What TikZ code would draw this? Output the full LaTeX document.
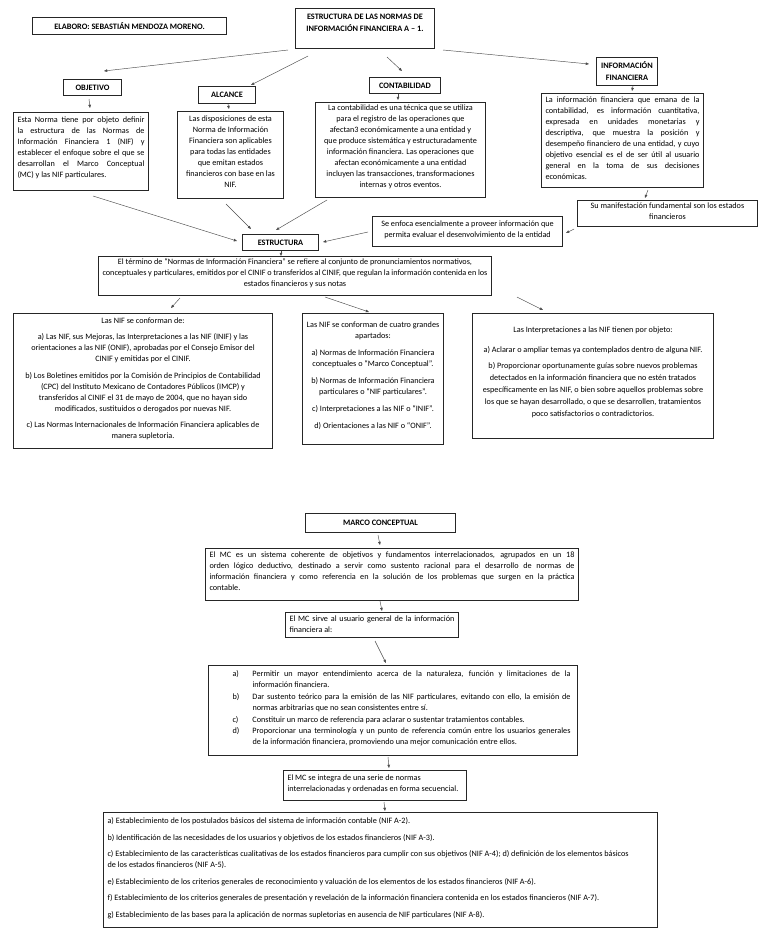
\documentclass[tikz,border=0pt]{standalone}
\usepackage{fontspec}
\setmainfont{Carlito}
\usetikzlibrary{calc,arrows.meta}
\newcommand{\jl}[1]{\makebox[\linewidth][s]{#1}}
\newcommand{\tb}[4]{\parbox[c][#2pt][t]{#1pt}{\setlength{\parindent}{0pt}\vspace*{#3pt}#4}}
\begin{document}
\begin{tikzpicture}[x=1pt,y=-1pt,font=\fontsize{8.2}{11}\selectfont,
  box/.style={draw=black!85,line width=1pt,inner xsep=4pt,inner ysep=0pt,anchor=north west},
  hd/.style={draw=black!85,line width=1pt,inner sep=0pt,anchor=north west,align=center,font=\fontsize{8.3}{12}\selectfont\bfseries},
  arr/.style={-{Triangle[length=3.2pt,width=2.6pt]},line width=0.45pt,draw=black!70}]
\useasboundingbox (0,0) rectangle (768,932);
\fill[white] (0,0) rectangle (768,932);
% headers
\node[hd,minimum width=194pt,minimum height=17pt] (elab) at (32,17) {ELABORO: SEBASTIÁN MENDOZA MORENO.};
\node[hd,minimum width=139pt,minimum height=40pt] (title) at (295,8) {\parbox[c][40pt][t]{139pt}{\centering\vspace*{6pt}ESTRUCTURA DE LAS NORMAS DE\\INFORMACIÓN FINANCIERA A – 1.}};
\node[hd,minimum width=58pt,minimum height=16pt] (objh) at (63,79) {OBJETIVO};
\node[hd,minimum width=57pt,minimum height=17pt] (alch) at (198,86) {ALCANCE};
\node[hd,minimum width=71pt,minimum height=16pt] (conh) at (369,77) {CONTABILIDAD};
\node[hd,minimum width=61pt,minimum height=28pt] (infh) at (596,57) {INFORMACIÓN\\FINANCIERA};
% text boxes row 1
\node[box] (objt) at (13,112) {\tb{127}{78}{4}{\jl{Esta Norma tiene por objeto definir}\\
\jl{la estructura de las Normas de}\\
\jl{Información Financiera 1 (NIF) y}\\
\jl{establecer el enfoque sobre el que se}\\
\jl{desarrollan el Marco Conceptual}\\
(MC) y las NIF particulares.}};
\node[box] (alct) at (177,111) {\tb{98}{87}{4}{\centering Las disposiciones de esta\\Norma de Información\\Financiera son aplicables\\para todas las entidades\\que emitan estados\\financieros con base en las\\NIF.}};
\node[box] (cont) at (315,102) {\tb{162}{95}{2}{\centering La contabilidad es una técnica que se utiliza\\para el registro de las operaciones que\\afectan3 económicamente a una entidad y\\que produce sistemática y estructuradamente\\información financiera. Las operaciones que\\afectan económicamente a una entidad\\incluyen las transacciones, transformaciones\\internas y otros eventos.}};
\node[box] (inft) at (541,93) {\tb{154}{94}{3}{\jl{La información financiera que emana de la}\\
\jl{contabilidad, es información cuantitativa,}\\
\jl{expresada en unidades monetarias y}\\
\jl{descriptiva, que muestra la posición y}\\
\jl{desempeño financiero de una entidad, y cuyo}\\
\jl{objetivo esencial es el de ser útil al usuario}\\
\jl{general en la toma de sus decisiones}\\
económicas.}};
\node[box] (sum) at (577,200) {\tb{172}{26}{2}{\centering Su manifestación fundamental son los estados\\financieros}};
\node[box] (sen) at (372,216) {\tb{182}{30}{4}{\centering Se enfoca esencialmente a proveer información que\\permita evaluar el desenvolvimiento de la entidad}};
\node[hd,minimum width=76pt,minimum height=16pt] (estr) at (242,234) {ESTRUCTURA};
\node[box] (term) at (98,256) {\tb{385}{39}{2}{\centering El término de “Normas de Información Financiera” se refiere al conjunto de pronunciamientos normativos,\\conceptuales y particulares, emitidos por el CINIF o transferidos al CINIF, que regulan la información contenida en los\\estados financieros y sus notas}};
% row 3
\node[box] (nifL) at (13,313) {\tb{251}{135}{4}{\centering Las NIF se conforman de:\\[5.5pt]
a) Las NIF, sus Mejoras, las Interpretaciones a las NIF (INIF) y las\\orientaciones a las NIF (ONIF), aprobadas por el Consejo Emisor del\\CINIF y emitidas por el CINIF.\\[5.5pt]
b) Los Boletines emitidos por la Comisión de Principios de Contabilidad\\(CPC) del Instituto Mexicano de Contadores Públicos (IMCP) y\\transferidos al CINIF el 31 de mayo de 2004, que no hayan sido\\modificados, sustituidos o derogados por nuevas NIF.\\[5.5pt]
c) Las Normas Internacionales de Información Financiera aplicables de\\manera supletoria.}};
\node[box] (nifM) at (302,313) {\tb{133}{131}{8}{\centering Las NIF se conforman de cuatro grandes\\apartados:\\[6pt]
a) Normas de Información Financiera\\conceptuales o “Marco Conceptual”.\\[6pt]
b) Normas de Información Financiera\\particulares o “NIF particulares”.\\[6pt]
c) Interpretaciones a las NIF o “INIF”.\\[6pt]
d) Orientaciones a las NIF o “ONIF”.}};
\node[box] (nifR) at (472,313) {\tb{233}{125}{13}{\centering\fontsize{8.2}{11.8}\selectfont Las Interpretaciones a las NIF tienen por objeto:\\[8pt]
a) Aclarar o ampliar temas ya contemplados dentro de alguna NIF.\\[5pt]
b) Proporcionar oportunamente guías sobre nuevos problemas\\detectados en la información financiera que no estén tratados\\específicamente en las NIF, o bien sobre aquellos problemas sobre\\los que se hayan desarrollado, o que se desarrollen, tratamientos\\poco satisfactorios o contradictorios.}};
% lower section
\node[hd,minimum width=150pt,minimum height=19pt] (mc) at (305,513) {MARCO CONCEPTUAL};
\node[box] (mc1) at (205,548) {\tb{365}{52}{3}{\jl{El MC es un sistema coherente de objetivos y fundamentos interrelacionados, agrupados en un 18}\\
\jl{orden lógico deductivo, destinado a servir como sustento racional para el desarrollo de normas de}\\
\jl{información financiera y como referencia en la solución de los problemas que surgen en la práctica}\\
contable.}};
\node[box] (mc2) at (285,612) {\tb{165}{25}{3}{\jl{El MC sirve al usuario general de la información}\\financiera al:}};
\node[box] (mcl) at (208,665) {\tb{361}{90}{5}{\fontsize{8.2}{11.4}\selectfont
\hspace*{20pt}\makebox[20pt][l]{a)}\makebox[318pt][s]{Permitir un mayor entendimiento acerca de la naturaleza, función y limitaciones de la}\\
\hspace*{40pt}información financiera.\\
\hspace*{20pt}\makebox[20pt][l]{b)}\makebox[318pt][s]{Dar sustento teórico para la emisión de las NIF particulares, evitando con ello, la emisión de}\\
\hspace*{40pt}normas arbitrarias que no sean consistentes entre sí.\\
\hspace*{20pt}\makebox[20pt][l]{c)}Constituir un marco de referencia para aclarar o sustentar tratamientos contables.\\
\hspace*{20pt}\makebox[20pt][l]{d)}\makebox[318pt][s]{Proporcionar una terminología y un punto de referencia común entre los usuarios generales}\\
\hspace*{40pt}de la información financiera, promoviendo una mejor comunicación entre ellos.}};
\node[box] (mc3) at (283,770) {\tb{175}{30}{4}{\raggedright El MC se integra de una serie de normas\\interrelacionadas y ordenadas en forma secuencial.}};
\node[box] (fin) at (103,812) {\tb{546}{115}{5}{\raggedright
a) Establecimiento de los postulados básicos del sistema de información contable (NIF A-2).\\[5.5pt]
b) Identificación de las necesidades de los usuarios y objetivos de los estados financieros (NIF A-3).\\[5.5pt]
c) Establecimiento de las características cualitativas de los estados financieros para cumplir con sus objetivos (NIF A-4); d) definición de los elementos básicos\\de los estados financieros (NIF A-5).\\[5.5pt]
e) Establecimiento de los criterios generales de reconocimiento y valuación de los elementos de los estados financieros (NIF A-6).\\[5.5pt]
f) Establecimiento de los criterios generales de presentación y revelación de la información financiera contenida en los estados financieros (NIF A-7).\\[5.5pt]
g) Establecimiento de las bases para la aplicación de normas supletorias en ausencia de NIF particulares (NIF A-8).}};
% connectors
\draw[arr] ($(title.north west)+(-7,42)$) -- ($(objh.north west)+(41,-8)$);
\draw[arr] ($(title.north west)+(13,48)$) -- ($(alch.north west)+(53,-1)$);
\draw[arr] ($(title.north west)+(92,49)$) -- ($(conh.north west)+(33,-6)$);
\draw[arr] ($(title.north west)+(148,42)$) -- ($(infh.north west)+(-7,7)$);
\draw[arr] ($(objh.north west)+(26,20)$) -- ($(objt.north west)+(77,-4)$);
\draw[arr] ($(alch.north west)+(30,18)$) -- ($(alct.north west)+(52,-2)$);
\draw[arr] ($(conh.north west)+(29,17)$) -- ($(cont.north west)+(83,-2)$);
\draw[arr] ($(infh.north west)+(37,29)$) -- ($(inft.north west)+(91,-2)$);
\draw[arr] ($(objt.north west)+(80,84)$) -- ($(estr.north west)+(-5,7)$);
\draw[arr] ($(alct.north west)+(49,93)$) -- ($(estr.north west)+(9,-5)$);
\draw[arr] ($(cont.north west)+(12,98)$) -- ($(estr.north west)+(34,-4)$);
\draw[arr] ($(sen.north west)+(-4,16)$) -- ($(estr.north west)+(81,8)$);
\draw[arr] ($(inft.north west)+(107,97)$) -- ($(sum.north west)+(68,-2)$);
\draw[arr] ($(sum.north west)+(-3,29)$) -- ($(sen.north west)+(194,17)$);
\draw[arr] ($(estr.north west)+(39,17)$) -- ($(term.north west)+(183,0)$);
\draw[arr] ($(term.north west)+(82,42)$) -- ($(nifL.north west)+(158,-5)$);
\draw[arr] ($(term.north west)+(227,41)$) -- ($(nifM.north west)+(67,-1)$);
\draw[arr] ($(term.north west)+(419,41)$) -- ($(nifR.north west)+(71,-3)$);
\draw[arr] ($(mc.north west)+(73,22)$) -- ($(mc1.north west)+(175,-3)$);
\draw[arr] ($(mc1.north west)+(175,53)$) -- ($(mc2.north west)+(97,-1)$);
\draw[arr] ($(mc2.north west)+(90,29)$) -- ($(mcl.north west)+(178,-2)$);
\draw[arr] ($(mcl.north west)+(180,92)$) -- ($(mc3.north west)+(106,-2)$);
\draw[arr] ($(mc3.north west)+(101,32)$) -- ($(fin.north west)+(282,-1)$);
\end{tikzpicture}
\end{document}
